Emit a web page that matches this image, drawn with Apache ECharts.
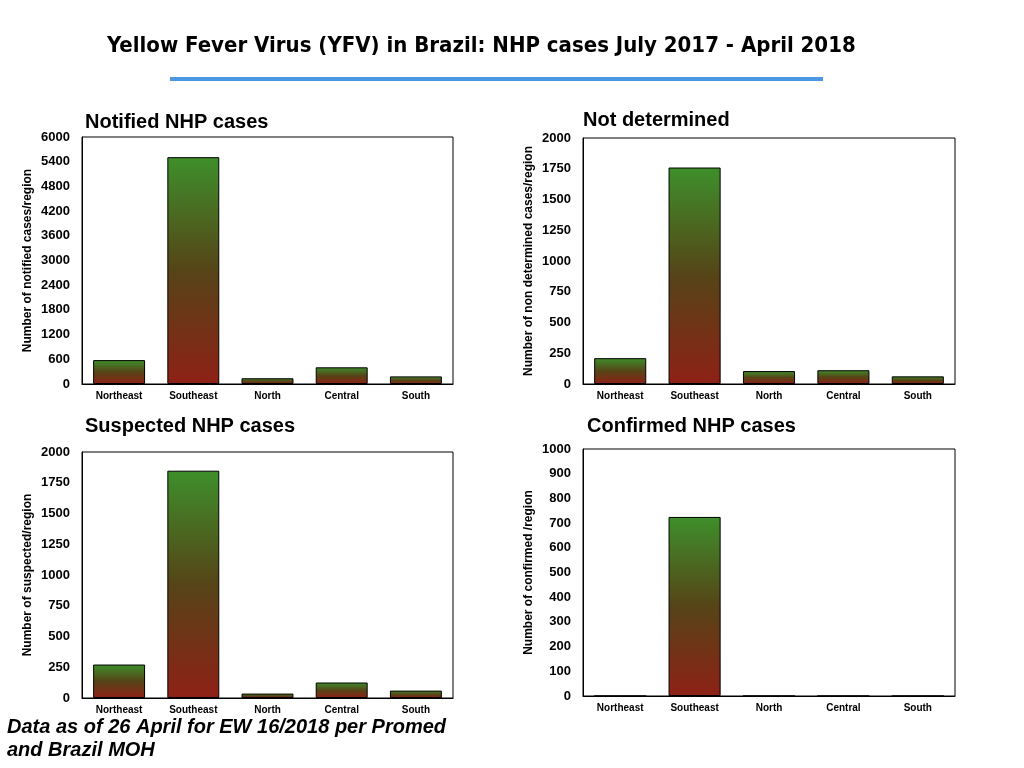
<!DOCTYPE html>
<html>
<head>
<meta charset="utf-8">
<script src="https://cdn.jsdelivr.net/npm/echarts@6/dist/echarts.min.js"></script>
<style>
html,body{margin:0;padding:0;background:#fff;}
#main{width:1024px;height:768px;}
</style>
</head>
<body>
<div id="main"></div>
<script>
const regions = ['Northeast', 'Southeast', 'North', 'Central', 'South'];
const notified = [580, 5510, 140, 405, 185];
const notDetermined = [210, 1760, 105, 112, 62];
const suspected = [272, 1848, 36, 126, 60];
const confirmed = [0, 725, 0, 0, 0];

const panelTitles = ['Notified NHP cases', 'Not determined', 'Suspected NHP cases', 'Confirmed NHP cases'];
const axisNames = ['Number of notified cases/region', 'Number of non determined cases/region', 'Number of suspected/region', 'Number of confirmed /region'];
const axisMax = [6000, 2000, 2000, 1000];
const axisInterval = [600, 250, 250, 100];
const seriesData = [notified, notDetermined, suspected, confirmed];

const grids = [
  {left: 82, top: 137, width: 371, height: 247},
  {left: 583, top: 138, width: 372, height: 246},
  {left: 82, top: 452, width: 371, height: 246},
  {left: 583, top: 449, width: 372, height: 247}
];
const titlePos = [
  {left: 85, top: 112},
  {left: 583, top: 110},
  {left: 85, top: 416},
  {left: 587, top: 416}
];

const barColor = {
  type: 'linear', x: 0, y: 0, x2: 0, y2: 1,
  colorStops: [
    {offset: 0, color: '#3e8f2b'},
    {offset: 0.5, color: '#564417'},
    {offset: 1, color: '#8e2116'}
  ]
};

const chart = echarts.init(document.getElementById('main'));
const option = {
  backgroundColor: '#fff',
  animation: false,
  textStyle: {fontFamily: 'Liberation Sans'},
  title: panelTitles.map((t, i) => ({
    text: t,
    left: titlePos[i].left, top: titlePos[i].top, padding: 0,
    textStyle: {fontFamily: 'Liberation Sans', fontWeight: 'bold', fontSize: 20, color: '#000'}
  })),
  grid: grids.map(g => Object.assign({show: true, borderColor: '#000', borderWidth: 1, backgroundColor: 'transparent'}, g)),
  xAxis: grids.map((g, i) => ({
    type: 'category', gridIndex: i, data: regions,
    axisLine: {show: true, lineStyle: {color: '#000', width: 1}},
    axisTick: {show: false},
    axisLabel: {color: '#000', fontWeight: 'bold', fontSize: 10, margin: 7}
  })),
  yAxis: grids.map((g, i) => ({
    type: 'value', gridIndex: i, min: 0, max: axisMax[i], interval: axisInterval[i],
    name: axisNames[i], nameLocation: 'middle', nameGap: 48, nameRotate: 90,
    nameTextStyle: {color: '#000', fontWeight: 'bold', fontSize: 12},
    axisLine: {show: true, lineStyle: {color: '#000'}},
    axisTick: {show: false},
    splitLine: {show: false},
    axisLabel: {color: '#000', fontWeight: 'bold', fontSize: 13, margin: 12, formatter: v => String(v)}
  })),
  series: seriesData.map((d, i) => ({
    type: 'bar', xAxisIndex: i, yAxisIndex: i, data: d,
    barWidth: '70%',
    itemStyle: {color: barColor, borderColor: '#000', borderWidth: 1}
  })),
  graphic: [
    {type: 'text', left: 107, top: 35, style: {text: 'Yellow Fever Virus (YFV) in Brazil: NHP cases July 2017 - April 2018', fontFamily: "'DejaVu Sans Condensed', 'Liberation Sans', sans-serif", fontWeight: 'bold', fontSize: 22, fill: '#000'}},
    {type: 'rect', shape: {x: 170, y: 77, width: 653, height: 4}, style: {fill: '#4a97e3'}},
    {type: 'text', left: 7, top: 716, style: {text: 'Data as of 26 April for EW 16/2018 per Promed\nand Brazil MOH', fontFamily: 'Liberation Sans', fontWeight: 'bold', fontStyle: 'italic', fontSize: 20, lineHeight: 23, fill: '#000'}}
  ]
};
chart.setOption(option);
</script>
</body>
</html>
